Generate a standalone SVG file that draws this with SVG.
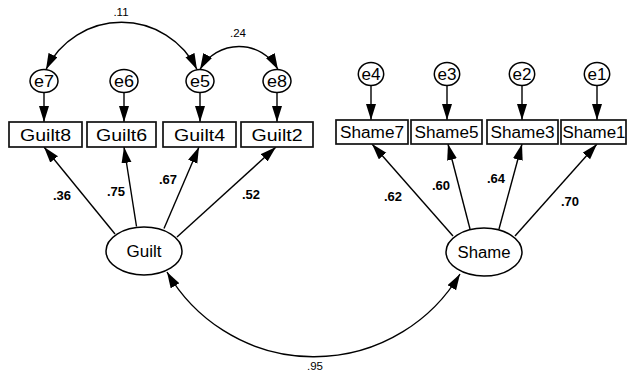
<svg xmlns="http://www.w3.org/2000/svg" width="627" height="372" viewBox="0 0 627 372">
<defs>
<marker id="ah" markerUnits="userSpaceOnUse" markerWidth="17" markerHeight="11" refX="16" refY="5" orient="auto-start-reverse">
<path d="M0,0 L16,5 L0,10 z" fill="#000"/>
</marker>
<style>
.box{fill:#fff;stroke:#111;stroke-width:1.7}
.err{fill:#fff;stroke:#000;stroke-width:1.5}
.lat{fill:#fff;stroke:#000;stroke-width:1.5}
.t{font-family:"Liberation Sans",Arial,sans-serif;fill:#000;text-anchor:middle}
.lbl{font-size:16px}
.w{font-family:"Liberation Sans",Arial,sans-serif;font-weight:bold;font-size:13px;text-anchor:middle;fill:#000}
.c{font-family:"Liberation Sans",Arial,sans-serif;font-size:11.5px;text-anchor:middle;fill:#000}
.ln{fill:none;stroke:#000;stroke-width:1.4;marker-end:url(#ah)}
.bi{fill:none;stroke:#000;stroke-width:1.4;marker-end:url(#ah);marker-start:url(#ah)}
</style>
</defs>
<rect width="627" height="372" fill="#fff"/>
<g id="connectors">
<path class="ln" d="M44,92.5 L44,122"/>
<path class="ln" d="M124,92.5 L124,122"/>
<path class="ln" d="M200,92.5 L200,122"/>
<path class="ln" d="M277,92.5 L277,122"/>
<path class="ln" d="M371,85.5 L371,120"/>
<path class="ln" d="M447,85.5 L447,120"/>
<path class="ln" d="M522,85.5 L522,120"/>
<path class="ln" d="M597,85.5 L597,120"/>
<path class="ln" d="M115,234 L44,147"/>
<path class="ln" d="M136.5,226.5 L124,147"/>
<path class="ln" d="M164,228.5 L199,147"/>
<path class="ln" d="M177,237 L276,147"/>
<path class="ln" d="M453,236 L372,144"/>
<path class="ln" d="M470,229 L448,144"/>
<path class="ln" d="M499,229 L522,144"/>
<path class="ln" d="M515,236 L597,144"/>
<path class="bi" d="M46,69.5 A84,84 0 0 1 197,69.5"/>
<path class="bi" d="M200,69.5 A44.5,44.5 0 0 1 278,69.5"/>
<path class="bi" d="M167,272 A170,170 0 0 0 460,274"/>
<text class="c" x="121" y="16">.11</text>
<text class="c" x="238" y="37">.24</text>
<text class="c" x="315" y="370">.95</text>
<text class="w" x="62" y="200">.36</text>
<text class="w" x="116" y="196">.75</text>
<text class="w" x="168" y="184">.67</text>
<text class="w" x="251" y="199">.52</text>
<text class="w" x="393" y="201">.62</text>
<text class="w" x="441" y="190">.60</text>
<text class="w" x="496" y="183">.64</text>
<text class="w" x="570" y="206">.70</text>
</g>
<g id="e7"><ellipse class="err" cx="44" cy="81" rx="14" ry="11.5"/><text class="t lbl" x="44" y="87" textLength="20" lengthAdjust="spacingAndGlyphs">e7</text></g>
<g id="e6"><ellipse class="err" cx="124" cy="81" rx="14" ry="11.5"/><text class="t lbl" x="124" y="87" textLength="20" lengthAdjust="spacingAndGlyphs">e6</text></g>
<g id="e5"><ellipse class="err" cx="200" cy="81" rx="14" ry="11.5"/><text class="t lbl" x="200" y="87" textLength="20" lengthAdjust="spacingAndGlyphs">e5</text></g>
<g id="e8"><ellipse class="err" cx="277" cy="81" rx="14" ry="11.5"/><text class="t lbl" x="277" y="87" textLength="20" lengthAdjust="spacingAndGlyphs">e8</text></g>
<g id="e4"><ellipse class="err" cx="371" cy="74" rx="12.7" ry="11.5"/><text class="t lbl" x="371" y="80" textLength="19" lengthAdjust="spacingAndGlyphs">e4</text></g>
<g id="e3"><ellipse class="err" cx="447" cy="74" rx="12.7" ry="11.5"/><text class="t lbl" x="447" y="80" textLength="19" lengthAdjust="spacingAndGlyphs">e3</text></g>
<g id="e2"><ellipse class="err" cx="522" cy="74" rx="12.7" ry="11.5"/><text class="t lbl" x="522" y="80" textLength="19" lengthAdjust="spacingAndGlyphs">e2</text></g>
<g id="e1"><ellipse class="err" cx="597" cy="74" rx="12.7" ry="11.5"/><text class="t lbl" x="597" y="80" textLength="19" lengthAdjust="spacingAndGlyphs">e1</text></g>
<g id="Guilt8"><rect class="box" x="9" y="122" width="73" height="25"/><text class="t lbl" x="45.5" y="140.5" textLength="51" lengthAdjust="spacingAndGlyphs">Guilt8</text></g>
<g id="Guilt6"><rect class="box" x="87" y="122" width="69" height="25"/><text class="t lbl" x="121.5" y="140.5" textLength="51" lengthAdjust="spacingAndGlyphs">Guilt6</text></g>
<g id="Guilt4"><rect class="box" x="163" y="122" width="73" height="25"/><text class="t lbl" x="199.5" y="140.5" textLength="51" lengthAdjust="spacingAndGlyphs">Guilt4</text></g>
<g id="Guilt2"><rect class="box" x="241" y="122" width="72" height="25"/><text class="t lbl" x="277" y="140.5" textLength="51" lengthAdjust="spacingAndGlyphs">Guilt2</text></g>
<g id="Shame7"><rect class="box" x="336" y="120" width="72" height="24"/><text class="t lbl" x="372" y="138" textLength="64" lengthAdjust="spacingAndGlyphs">Shame7</text></g>
<g id="Shame5"><rect class="box" x="411" y="120" width="71" height="24"/><text class="t lbl" x="446.5" y="138" textLength="64" lengthAdjust="spacingAndGlyphs">Shame5</text></g>
<g id="Shame3"><rect class="box" x="487" y="120" width="71" height="24"/><text class="t lbl" x="522.5" y="138" textLength="64" lengthAdjust="spacingAndGlyphs">Shame3</text></g>
<g id="Shame1"><rect class="box" x="561" y="120" width="65" height="24"/><text class="t lbl" x="594" y="138" textLength="63" lengthAdjust="spacingAndGlyphs">Shame1</text></g>
<g id="Guilt"><ellipse class="lat" cx="144" cy="251" rx="38" ry="24"/><text class="t lbl" x="144" y="257" textLength="35" lengthAdjust="spacingAndGlyphs">Guilt</text></g>
<g id="Shame"><ellipse class="lat" cx="484" cy="252" rx="38" ry="24"/><text class="t lbl" x="484" y="258" textLength="53" lengthAdjust="spacingAndGlyphs">Shame</text></g>
</svg>
